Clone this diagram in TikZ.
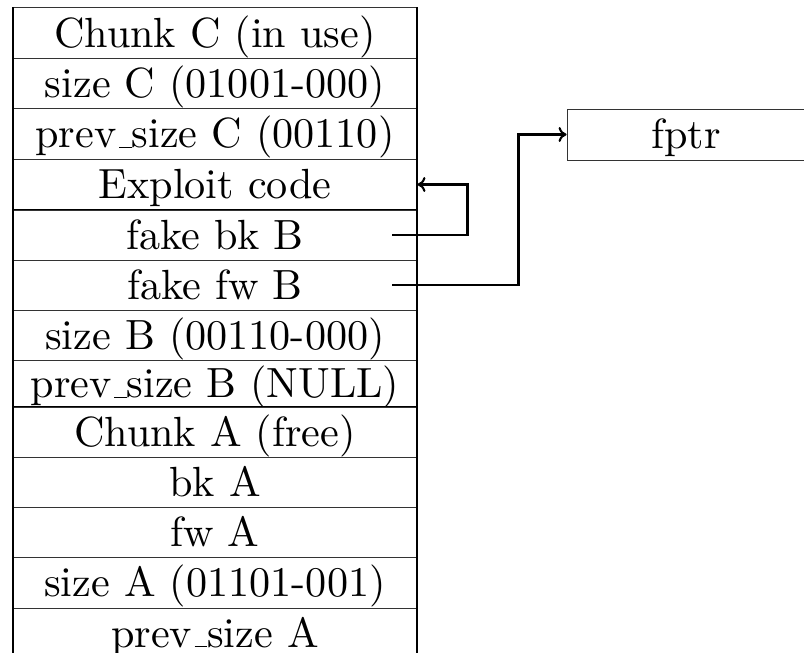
\documentclass[tikz,border=0pt]{standalone}
\usepackage{fontspec}
\usetikzlibrary{calc,arrows.meta}
% Latin Modern at its 10pt design size, scaled up
\newfontfamily\tenrm{lmroman10-regular}[Extension=.otf]
% classic low rule underscore
\newcommand\lowbar{\leavevmode\kern.06em\vbox{\hrule width.3em height 1.1pt}}
\begin{document}
\begin{tikzpicture}[x=1pt, y=1pt,
  cell/.style={draw=black!80, line width=0.9pt, minimum width=404pt,
    inner sep=0pt, text height=28.5pt, text depth=0pt,
    font=\tenrm\fontsize{42.2}{48}\selectfont},
  frame/.style={line width=2pt, black},
  seam/.style={line width=1.5pt, black},
  link/.style={-{To[length=8pt, width=15pt]}, line width=2.1pt, black}]
\useasboundingbox (0,0) rectangle (804,-653);

% chunk C
\node[cell, minimum height=50.5pt] (cC)   at (215,-32.75)  {Chunk C (in use)};
\node[cell, minimum height=50pt]   (szC)  at (215,-83)     {size C (01001-000)};
\node[cell, minimum height=51pt]   (psC)  at (215,-133.5)  {prev\lowbar size C (00110)};
\node[cell, minimum height=51pt]   (expl) at (215,-184.5)  {Exploit code};
% forged chunk B
\node[cell, minimum height=50pt]   (fbk)  at (215,-235)    {fake bk B};
\node[cell, minimum height=50pt]   (ffw)  at (215,-285)    {fake fw B};
\node[cell, minimum height=50pt]   (szB)  at (215,-335)    {size B (00110-000)};
\node[cell, minimum height=47pt]   (psB)  at (215,-383.5)  {prev\lowbar size B (NULL)};
% chunk A
\node[cell, minimum height=50pt]   (cA)   at (215,-432)    {Chunk A (free)};
\node[cell, minimum height=50pt]   (bkA)  at (215,-482)    {bk A};
\node[cell, minimum height=50pt]   (fwA)  at (215,-532)    {fw A};
\node[cell, minimum height=51pt]   (szA)  at (215,-582.5)  {size A (01101-001)};
\node[cell, minimum height=50pt]   (psA)  at (215,-633)    {prev\lowbar size A};

% target pointer
\node[cell, minimum width=238pt, minimum height=51pt] (fptr) at (686,-134.5) {fptr};

% outer walls and block seams
\draw[frame] (cC.north west) -- (psA.south west);
\draw[frame] (cC.north east) -- (psA.south east);
\draw[seam] (fbk.north west) -- (fbk.north east);
\draw[seam] (cA.north west) -- (cA.north east);

% forged links
\draw[link] ($(fbk.east)+(-25,0)$) -- ++(75,0) |- (expl.east);
\draw[link] ($(ffw.east)+(-25,0)$) -- ++(126,0) |- (fptr.west);
\end{tikzpicture}
\end{document}
